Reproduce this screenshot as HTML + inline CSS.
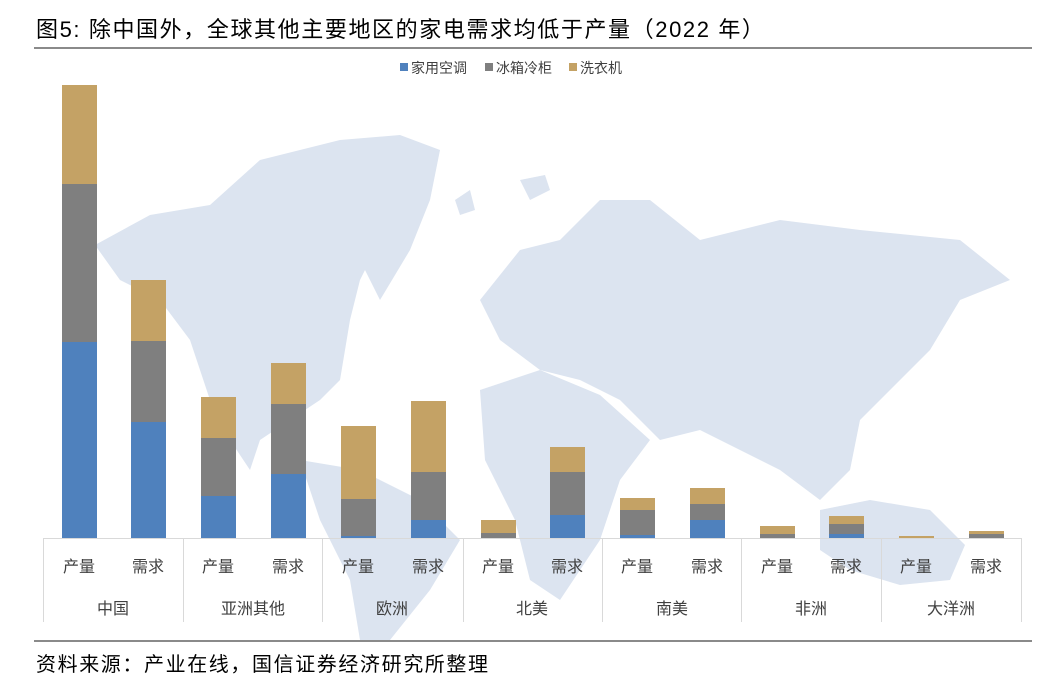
<!DOCTYPE html>
<html><head><meta charset="utf-8"><style>
body{margin:0;background:#fff;width:1058px;height:690px;overflow:hidden;font-family:"Liberation Sans","Noto Sans CJK SC",sans-serif;}
</style></head><body>
<svg width="1058" height="690" xmlns="http://www.w3.org/2000/svg" style="position:absolute;left:0;top:0">
<text x="36" y="37" font-size="22" letter-spacing="1.6" fill="#000" font-family="Liberation Sans,Noto Sans CJK SC,sans-serif">图5: 除中国外，全球其他主要地区的家电需求均低于产量（2022 年）</text>
<line x1="34" y1="48" x2="1032" y2="48" stroke="#444" stroke-width="1.2"/>
<g fill="#dce4f0">
<path d="M95,245 L150,215 L210,205 L260,160 L300,150 L340,155 L360,210 L380,240 L360,280 L350,320 L340,380 L320,400 L290,420 L260,440 L250,470 L230,440 L210,400 L190,340 L160,300 L120,280 Z"/>
<path d="M300,150 L340,140 L400,135 L440,150 L430,200 L410,250 L380,300 L365,270 L350,220 Z"/>
<path d="M300,460 L360,470 L420,500 L460,540 L430,590 L390,640 L360,640 L350,580 L320,520 Z"/>
<path d="M480,390 L540,370 L600,395 L650,440 L620,480 L600,540 L560,600 L530,580 L515,520 L485,460 Z"/>
<path d="M480,300 L520,250 L560,240 L600,200 L650,200 L700,240 L780,220 L860,230 L960,240 L1010,280 L960,300 L930,350 L890,390 L860,420 L850,470 L820,500 L780,470 L740,450 L700,430 L660,440 L620,400 L580,380 L540,370 L500,340 Z"/>
<path d="M820,510 L870,500 L930,510 L965,545 L950,580 L900,585 L850,570 L820,550 Z"/>
<path d="M455,200 L470,190 L475,210 L460,215 Z"/>
<path d="M520,180 L545,175 L550,190 L530,200 Z"/>
</g>
<g font-size="14" fill="#404040">
<rect x="400" y="63" width="8" height="8" fill="#4f81bd"/><text x="411" y="73">家用空调</text>
<rect x="485" y="63" width="8" height="8" fill="#7f7f7f"/><text x="496" y="73">冰箱冷柜</text>
<rect x="569" y="63" width="8" height="8" fill="#c4a265"/><text x="580" y="73">洗衣机</text>
</g>
<g id="bars">
<rect x="62" y="342" width="35" height="196" fill="#4f81bd"/><rect x="62" y="184" width="35" height="158" fill="#7f7f7f"/><rect x="62" y="85" width="35" height="99" fill="#c4a265"/>
<rect x="131" y="422" width="35" height="116" fill="#4f81bd"/><rect x="131" y="341" width="35" height="81" fill="#7f7f7f"/><rect x="131" y="280" width="35" height="61" fill="#c4a265"/>
<rect x="201" y="496" width="35" height="42" fill="#4f81bd"/><rect x="201" y="438" width="35" height="58" fill="#7f7f7f"/><rect x="201" y="397" width="35" height="41" fill="#c4a265"/>
<rect x="271" y="474" width="35" height="64" fill="#4f81bd"/><rect x="271" y="404" width="35" height="70" fill="#7f7f7f"/><rect x="271" y="363" width="35" height="41" fill="#c4a265"/>
<rect x="341" y="536" width="35" height="2" fill="#4f81bd"/><rect x="341" y="499" width="35" height="37" fill="#7f7f7f"/><rect x="341" y="426" width="35" height="73" fill="#c4a265"/>
<rect x="411" y="520" width="35" height="18" fill="#4f81bd"/><rect x="411" y="472" width="35" height="48" fill="#7f7f7f"/><rect x="411" y="401" width="35" height="71" fill="#c4a265"/>
<rect x="481" y="533" width="35" height="5" fill="#7f7f7f"/><rect x="481" y="520" width="35" height="13" fill="#c4a265"/>
<rect x="550" y="515" width="35" height="23" fill="#4f81bd"/><rect x="550" y="472" width="35" height="43" fill="#7f7f7f"/><rect x="550" y="447" width="35" height="25" fill="#c4a265"/>
<rect x="620" y="535" width="35" height="3" fill="#4f81bd"/><rect x="620" y="510" width="35" height="25" fill="#7f7f7f"/><rect x="620" y="498" width="35" height="12" fill="#c4a265"/>
<rect x="690" y="520" width="35" height="18" fill="#4f81bd"/><rect x="690" y="504" width="35" height="16" fill="#7f7f7f"/><rect x="690" y="488" width="35" height="16" fill="#c4a265"/>
<rect x="760" y="534" width="35" height="4" fill="#7f7f7f"/><rect x="760" y="526" width="35" height="8" fill="#c4a265"/>
<rect x="829" y="534" width="35" height="4" fill="#4f81bd"/><rect x="829" y="524" width="35" height="10" fill="#7f7f7f"/><rect x="829" y="516" width="35" height="8" fill="#c4a265"/>
<rect x="899" y="536" width="35" height="2" fill="#c4a265"/>
<rect x="969" y="534" width="35" height="4" fill="#7f7f7f"/><rect x="969" y="531" width="35" height="3" fill="#c4a265"/>
</g>
<g stroke="#d9d9d9" stroke-width="1">
<line x1="43" y1="538.5" x2="1021" y2="538.5"/>
<line x1="43.5" y1="538" x2="43.5" y2="622"/><line x1="183.5" y1="538" x2="183.5" y2="622"/><line x1="322.5" y1="538" x2="322.5" y2="622"/><line x1="463.5" y1="538" x2="463.5" y2="622"/><line x1="602.5" y1="538" x2="602.5" y2="622"/><line x1="741.5" y1="538" x2="741.5" y2="622"/><line x1="881.5" y1="538" x2="881.5" y2="622"/><line x1="1021.5" y1="538" x2="1021.5" y2="622"/>
</g>
<g font-size="16" fill="#404040" text-anchor="middle">
<text x="79" y="572">产量</text><text x="148" y="572">需求</text>
<text x="218" y="572">产量</text><text x="288" y="572">需求</text>
<text x="358" y="572">产量</text><text x="428" y="572">需求</text>
<text x="498" y="572">产量</text><text x="567" y="572">需求</text>
<text x="637" y="572">产量</text><text x="707" y="572">需求</text>
<text x="777" y="572">产量</text><text x="846" y="572">需求</text>
<text x="916" y="572">产量</text><text x="986" y="572">需求</text>
<text x="113" y="614">中国</text><text x="253" y="614">亚洲其他</text><text x="392" y="614">欧洲</text><text x="532" y="614">北美</text><text x="672" y="614">南美</text><text x="811" y="614">非洲</text><text x="951" y="614">大洋洲</text>
</g>
<line x1="34" y1="641" x2="1032" y2="641" stroke="#444" stroke-width="1.2"/>
<text x="36" y="671" font-size="20" letter-spacing="1.6" fill="#000">资料来源：产业在线，国信证券经济研究所整理</text>
</svg>
</body></html>
